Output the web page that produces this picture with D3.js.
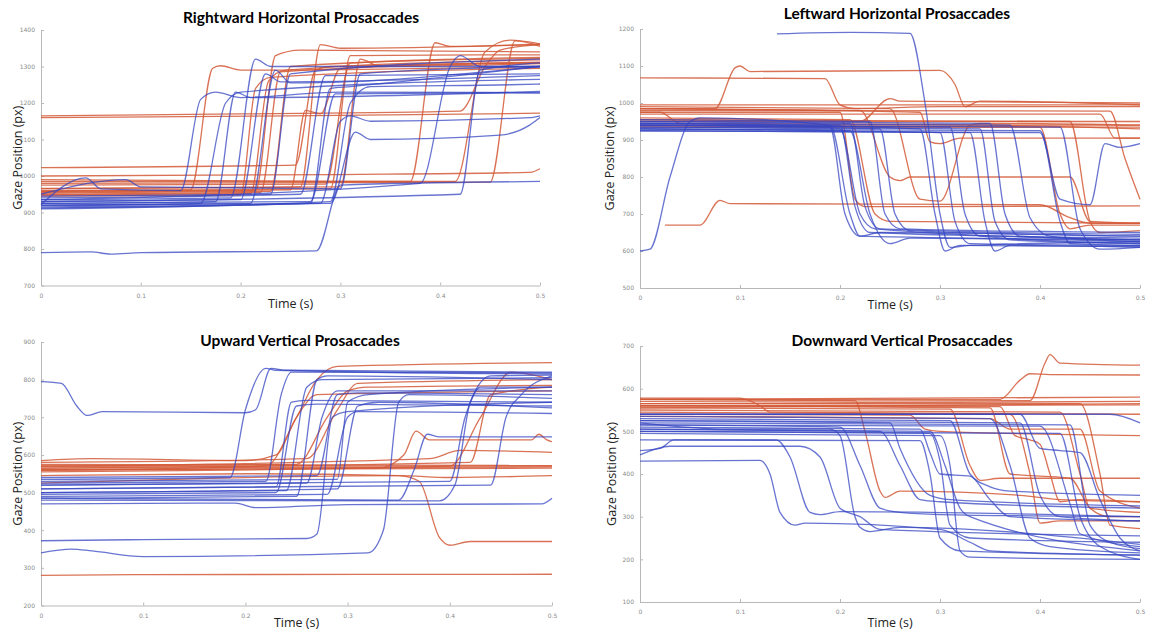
<!DOCTYPE html>
<html>
<head>
<meta charset="utf-8">
<script src="https://cdn.jsdelivr.net/npm/d3@7"></script>
<style>
  body { margin: 0; background: #fff; }
  .title { font-family: Lato, "Open Sans", sans-serif; font-weight: bold; font-size: 15.5px; fill: #000; }
  .alabel { font-family: "Open Sans", "Noto Sans", sans-serif; font-size: 12.5px; fill: #222; }
  .axis { color: #b8b8b8; }
  .axis .tick text { font-family: "DejaVu Sans", sans-serif; font-size: 6px; fill: #8a8a8a; }
</style>
</head>
<body>
<div id="container"></div>
<script>
// time ticks shared by all panels
const timeTicks = [0, 0.1, 0.2, 0.3, 0.4, 0.5];
const timeTickLabels = ["0", "0.1", "0.2", "0.3", "0.4", "0.5"];

// ---- Rightward horizontal: each trace is [time (s), gaze (px)] key points
const rightRed = [
  [[0,1165],[0.2,1170],[0.42,1178],[0.445,1300],[0.46,1345],[0.5,1360]],
  [[0,1160],[0.25,1165],[0.5,1172]],
  [[0,1023],[0.255,1030],[0.275,1290],[0.29,1300],[0.5,1310]],
  [[0,1000],[0.3,1004],[0.49,1010],[0.5,1020]],
  [[0,990],[0.3,985],[0.415,985],[0.445,1340],[0.47,1372],[0.5,1362]],
  [[0,960],[0.15,962],[0.172,1295],[0.18,1302],[0.2,1290],[0.5,1300]],
  [[0,955],[0.215,960],[0.235,1330],[0.26,1345],[0.5,1340]],
  [[0,965],[0.26,970],[0.28,1360],[0.3,1350],[0.5,1360]],
  [[0,950],[0.22,955],[0.24,1285],[0.5,1310]],
  [[0,958],[0.25,962],[0.265,1180],[0.28,1170],[0.3,1295],[0.5,1312]],
  [[0,975],[0.285,978],[0.31,1310],[0.5,1322]],
  [[0,966],[0.3,970],[0.32,1320],[0.34,1300],[0.5,1308]],
  [[0,985],[0.37,985],[0.395,1365],[0.41,1355],[0.5,1362]],
  [[0,980],[0.45,983],[0.475,1370],[0.5,1355]],
  [[0,945],[0.2,948],[0.215,1240],[0.23,1270],[0.5,1295]],
  [[0,958],[0.29,965],[0.31,1330],[0.5,1332]],
  [[0,953],[0.23,958],[0.25,1300],[0.5,1325]],
  [[0,948],[0.21,952],[0.228,1260],[0.245,1290],[0.5,1318]]
];
const rightBlue = [
  [[0,790],[0.05,792],[0.07,786],[0.1,790],[0.276,795],[0.3,975],[0.5,985]],
  [[0,922],[0.045,995],[0.06,965],[0.14,960],[0.16,1210],[0.175,1230],[0.2,1215],[0.3,1230],[0.5,1228]],
  [[0,935],[0.19,940],[0.215,1320],[0.23,1300],[0.5,1300]],
  [[0,925],[0.175,930],[0.195,1230],[0.21,1215],[0.5,1232]],
  [[0,915],[0.28,925],[0.3,1150],[0.31,1165],[0.33,1150],[0.49,1160],[0.5,1165]],
  [[0,920],[0.29,925],[0.315,1120],[0.33,1100],[0.46,1112],[0.49,1140],[0.5,1160]],
  [[0,935],[0.38,980],[0.41,1300],[0.42,1330],[0.44,1300],[0.5,1300]],
  [[0,930],[0.2,935],[0.225,1280],[0.24,1258],[0.5,1275]],
  [[0,920],[0.21,925],[0.235,1290],[0.25,1255],[0.5,1300]],
  [[0,945],[0.23,950],[0.25,1280],[0.5,1320]],
  [[0,912],[0.27,925],[0.29,1240],[0.31,1245],[0.5,1300]],
  [[0,925],[0.27,930],[0.295,1225],[0.5,1228]],
  [[0,930],[0.42,950],[0.44,1290],[0.5,1310]],
  [[0,940],[0.26,950],[0.285,1275],[0.5,1280]],
  [[0,950],[0.085,990],[0.1,970],[0.3,965],[0.32,1280],[0.5,1300]],
  [[0,910],[0.29,930],[0.31,1200],[0.33,1245],[0.47,1250],[0.5,1252]],
  [[0,918],[0.16,925],[0.185,1200],[0.2,1230],[0.5,1265]]
];

// ---- Leftward horizontal
const leftRed = [
  [[0,1068],[0.185,1066],[0.2,995],[0.215,985],[0.3,990],[0.5,990]],
  [[0,985],[0.075,985],[0.095,1095],[0.1,1100],[0.11,1085],[0.3,1088],[0.315,1050],[0.325,990],[0.34,1005],[0.5,995]],
  [[0.025,670],[0.06,670],[0.08,737],[0.09,728],[0.4,725],[0.43,690],[0.45,675],[0.5,675]],
  [[0,975],[0.2,975],[0.215,740],[0.225,720],[0.5,722]],
  [[0,990],[0.25,985],[0.28,740],[0.3,735],[0.33,940],[0.34,945],[0.5,940]],
  [[0,985],[0.22,980],[0.25,800],[0.26,790],[0.27,800],[0.43,800],[0.45,680],[0.5,675]],
  [[0,985],[0.28,975],[0.29,895],[0.3,890],[0.32,905],[0.5,905]],
  [[0,955],[0.22,950],[0.25,1012],[0.26,1005],[0.5,1000]],
  [[0,995],[0.5,995]],
  [[0,940],[0.5,940]],
  [[0,935],[0.5,935]],
  [[0,950],[0.5,950]],
  [[0,980],[0.47,978],[0.485,850],[0.5,740]],
  [[0,970],[0.46,970],[0.475,905],[0.5,905]],
  [[0,938],[0.4,935],[0.42,700],[0.43,660],[0.45,670],[0.5,670]],
  [[0,955],[0.43,950],[0.45,680],[0.46,650],[0.5,655]],
  [[0,960],[0.21,955],[0.235,700],[0.25,680],[0.5,675]],
  [[0,975],[0.02,975],[0.04,945],[0.3,942],[0.5,930]]
];
const leftBlue = [
  [[0.137,1187],[0.21,1191],[0.27,1188],[0.285,1000],[0.3,700],[0.31,610],[0.33,615],[0.5,625]],
  [[0,600],[0.01,605],[0.03,800],[0.05,950],[0.06,960],[0.19,940],[0.21,700],[0.22,640],[0.5,630]],
  [[0,925],[0.4,920],[0.42,740],[0.45,725],[0.465,890],[0.48,880],[0.5,890]],
  [[0,940],[0.19,935],[0.205,700],[0.22,640],[0.24,650],[0.5,640]],
  [[0,945],[0.2,940],[0.215,720],[0.23,650],[0.5,635]],
  [[0,935],[0.2,930],[0.22,700],[0.235,660],[0.5,630]],
  [[0,950],[0.21,945],[0.225,720],[0.24,660],[0.5,645]],
  [[0,930],[0.21,925],[0.23,700],[0.25,620],[0.27,635],[0.5,625]],
  [[0,945],[0.28,930],[0.295,700],[0.305,600],[0.32,615],[0.5,612]],
  [[0,930],[0.3,920],[0.315,680],[0.33,620],[0.5,615]],
  [[0,940],[0.31,935],[0.325,700],[0.34,640],[0.5,620]],
  [[0,925],[0.33,920],[0.345,680],[0.355,600],[0.37,615],[0.5,610]],
  [[0,935],[0.34,930],[0.355,680],[0.37,630],[0.5,620]],
  [[0,950],[0.35,945],[0.365,700],[0.38,640],[0.5,630]],
  [[0,945],[0.37,940],[0.39,690],[0.41,640],[0.5,625]],
  [[0,930],[0.4,925],[0.42,680],[0.43,620],[0.5,615]],
  [[0,940],[0.42,935],[0.44,660],[0.46,605],[0.5,610]],
  [[0,955],[0.23,950],[0.245,700],[0.26,660],[0.5,650]],
  [[0,940],[0.24,930],[0.255,700],[0.27,655],[0.5,640]]
];

// ---- Upward vertical
const upRed = [
  [[0,280],[0.1,282],[0.5,283]],
  [[0,565],[0.5,568]],
  [[0,560],[0.5,565]],
  [[0,570],[0.5,570]],
  [[0,575],[0.5,572]],
  [[0,545],[0.2,550],[0.35,545],[0.37,530],[0.39,380],[0.4,360],[0.42,370],[0.5,370]],
  [[0,525],[0.35,545],[0.4,540],[0.5,545]],
  [[0,560],[0.33,565],[0.355,600],[0.367,663],[0.38,640],[0.48,640],[0.487,655],[0.495,640],[0.5,635]],
  [[0,570],[0.38,590],[0.41,612],[0.5,607]],
  [[0,560],[0.22,570],[0.25,700],[0.27,800],[0.29,835],[0.5,845]],
  [[0,570],[0.25,575],[0.28,700],[0.3,770],[0.32,780],[0.5,785]],
  [[0,580],[0.26,590],[0.29,720],[0.31,790],[0.5,800]],
  [[0,555],[0.4,570],[0.43,700],[0.46,820],[0.5,800]],
  [[0,565],[0.42,580],[0.44,760],[0.5,780]],
  [[0,585],[0.05,590],[0.2,585],[0.23,600],[0.25,700],[0.27,760],[0.5,770]]
];
const upBlue = [
  [[0,795],[0.02,790],[0.035,730],[0.045,705],[0.06,715],[0.2,712],[0.21,720],[0.225,830],[0.24,825],[0.5,820]],
  [[0,372],[0.1,375],[0.26,378],[0.27,390],[0.285,700],[0.3,715],[0.5,740]],
  [[0,340],[0.03,350],[0.05,345],[0.1,330],[0.32,340],[0.335,400],[0.35,740],[0.36,760],[0.5,750]],
  [[0,485],[0.35,480],[0.365,560],[0.378,655],[0.39,648],[0.5,648]],
  [[0,480],[0.39,478],[0.405,520],[0.42,740],[0.44,810],[0.5,812]],
  [[0,470],[0.19,472],[0.21,460],[0.3,468],[0.49,470],[0.5,485]],
  [[0,535],[0.185,540],[0.2,720],[0.22,830],[0.23,825],[0.5,815]],
  [[0,525],[0.22,530],[0.235,760],[0.245,820],[0.5,818]],
  [[0,510],[0.23,515],[0.245,740],[0.26,745],[0.5,740]],
  [[0,495],[0.23,500],[0.25,730],[0.27,735],[0.5,730]],
  [[0,500],[0.24,505],[0.26,780],[0.275,800],[0.5,805]],
  [[0,485],[0.25,490],[0.27,800],[0.28,810],[0.5,800]],
  [[0,520],[0.26,525],[0.275,700],[0.29,770],[0.5,770]],
  [[0,540],[0.27,545],[0.29,760],[0.31,765],[0.5,760]],
  [[0,490],[0.28,495],[0.3,700],[0.31,715],[0.5,710]],
  [[0,500],[0.29,510],[0.31,730],[0.33,740],[0.5,725]],
  [[0,530],[0.29,535],[0.3,740],[0.32,760],[0.5,780]],
  [[0,520],[0.4,530],[0.415,700],[0.43,780],[0.5,780]],
  [[0,510],[0.44,520],[0.455,700],[0.47,760],[0.5,810]]
];

// ---- Downward vertical
const downRed = [
  [[0,575],[0.36,575],[0.38,620],[0.39,635],[0.41,633],[0.5,632]],
  [[0,570],[0.39,572],[0.405,660],[0.41,680],[0.42,660],[0.5,655]],
  [[0,565],[0.5,570]],
  [[0,575],[0.5,580]],
  [[0,560],[0.5,562]],
  [[0,555],[0.5,565]],
  [[0,578],[0.1,578],[0.12,560],[0.13,545],[0.5,540]],
  [[0,575],[0.215,572],[0.225,500],[0.24,360],[0.245,345],[0.26,360],[0.38,350],[0.42,340],[0.5,335]],
  [[0,540],[0.27,538],[0.285,505],[0.3,500],[0.5,490]],
  [[0,555],[0.31,552],[0.33,420],[0.34,385],[0.36,390],[0.5,390]],
  [[0,560],[0.36,558],[0.375,490],[0.39,480],[0.4,470],[0.41,400],[0.42,335],[0.44,340],[0.5,335]],
  [[0,545],[0.37,540],[0.39,400],[0.4,285],[0.42,290],[0.5,290]],
  [[0,550],[0.42,545],[0.44,400],[0.45,320],[0.5,310]],
  [[0,565],[0.44,565],[0.46,400],[0.47,280],[0.5,272]],
  [[0,560],[0.35,555],[0.37,400],[0.4,395],[0.43,390],[0.45,320],[0.47,300],[0.5,300]],
  [[0,535],[0.35,530],[0.37,505],[0.44,505],[0.46,360],[0.5,320]]
];
const downBlue = [
  [[0,430],[0.12,432],[0.13,400],[0.14,310],[0.155,280],[0.165,285],[0.3,270],[0.33,240],[0.35,220],[0.5,210]],
  [[0,455],[0.02,460],[0.034,480],[0.136,480],[0.15,440],[0.17,310],[0.18,305],[0.2,312],[0.5,300]],
  [[0,445],[0.03,465],[0.16,465],[0.18,440],[0.2,320],[0.22,300],[0.24,270],[0.5,255]],
  [[0,520],[0.09,505],[0.19,505],[0.2,490],[0.215,300],[0.22,275],[0.23,265],[0.26,275],[0.5,235]],
  [[0,515],[0.2,510],[0.22,420],[0.24,320],[0.26,310],[0.3,305],[0.5,300]],
  [[0,505],[0.24,500],[0.26,420],[0.28,340],[0.3,335],[0.5,320]],
  [[0,525],[0.25,520],[0.26,460],[0.29,350],[0.31,340],[0.5,325]],
  [[0,510],[0.28,505],[0.29,450],[0.3,400],[0.33,395],[0.35,340],[0.37,300],[0.5,290]],
  [[0,500],[0.29,495],[0.3,430],[0.31,280],[0.33,250],[0.5,240]],
  [[0,505],[0.29,500],[0.305,420],[0.32,320],[0.33,300],[0.5,220]],
  [[0,495],[0.3,490],[0.31,420],[0.32,220],[0.33,205],[0.5,200]],
  [[0,480],[0.28,478],[0.29,400],[0.3,250],[0.32,220],[0.5,210]],
  [[0,530],[0.31,525],[0.33,400],[0.35,370],[0.37,360],[0.5,350]],
  [[0,535],[0.35,530],[0.37,420],[0.39,250],[0.41,230],[0.5,215]],
  [[0,540],[0.38,540],[0.4,460],[0.42,455],[0.44,450],[0.46,340],[0.48,250],[0.5,220]],
  [[0,540],[0.47,540],[0.5,520]],
  [[0,525],[0.38,520],[0.4,350],[0.42,300],[0.5,290]],
  [[0,515],[0.4,512],[0.43,330],[0.44,260],[0.5,230]],
  [[0,500],[0.42,495],[0.44,300],[0.46,230],[0.5,200]],
  [[0,520],[0.43,515],[0.45,280],[0.47,240],[0.5,225]]
];

const W = 1150, H = 635;
const RED = "#d45a38", BLUE = "#3546c2";

const svg = d3.select("#container")
  .append("svg")
    .attr("width", W)
    .attr("height", H);

// panel boxes in page pixels
const panels = [
  {title: "Rightward Horizontal Prosaccades", red: rightRed, blue: rightBlue, yDomain: [700, 1400],
   left: 41, right: 540, top: 30, bottom: 285.5, titleX: 301, titleY: 23, ylabX: 18, xlabY: 308},
  {title: "Leftward Horizontal Prosaccades", red: leftRed, blue: leftBlue, yDomain: [500, 1200],
   left: 640, right: 1140, top: 29, bottom: 288, titleX: 897, titleY: 19, ylabX: 610, xlabY: 309},
  {title: "Upward Vertical Prosaccades", red: upRed, blue: upBlue, yDomain: [200, 900],
   left: 41, right: 552, top: 342, bottom: 605.5, titleX: 300, titleY: 346, ylabX: 18, xlabY: 627},
  {title: "Downward Vertical Prosaccades", red: downRed, blue: downBlue, yDomain: [100, 700],
   left: 640, right: 1140, top: 346, bottom: 602, titleX: 902, titleY: 346, ylabX: 612, xlabY: 627}
];

panels.forEach(p => {
  const x = d3.scaleLinear().domain([0, 0.5]).range([p.left, p.right]);
  const y = d3.scaleLinear().domain(p.yDomain).range([p.bottom, p.top]);
  const g = svg.append("g");

  // axes, ticks point inward like matlab
  g.append("g")
    .attr("class", "axis")
    .attr("transform", `translate(0,${p.bottom})`)
    .call(d3.axisBottom(x).tickValues(timeTicks)
      .tickFormat((d, i) => timeTickLabels[i]).tickSizeInner(-3).tickSizeOuter(0).tickPadding(8));
  g.append("g")
    .attr("class", "axis")
    .attr("transform", `translate(${p.left},0)`)
    .call(d3.axisLeft(y).tickValues(d3.range(p.yDomain[0], p.yDomain[1] + 1, 100))
      .tickFormat(d3.format("d")).tickSizeInner(-3).tickSizeOuter(0).tickPadding(6));

  const line = d3.line()
    .x(d => x(d[0]))
    .y(d => y(d[1]))
    .curve(d3.curveMonotoneX);

  g.selectAll(".red")
    .data(p.red)
    .enter().append("path")
      .attr("d", line)
      .attr("fill", "none")
      .attr("stroke", RED)
      .attr("stroke-opacity", 0.85)
      .attr("stroke-width", 1.3);

  g.selectAll(".blue")
    .data(p.blue)
    .enter().append("path")
      .attr("d", line)
      .attr("fill", "none")
      .attr("stroke", BLUE)
      .attr("stroke-opacity", 0.75)
      .attr("stroke-width", 1.3);

  g.append("text")
    .attr("class", "title")
    .attr("x", p.titleX)
    .attr("y", p.titleY)
    .attr("text-anchor", "middle")
    .text(p.title);

  g.append("text")
    .attr("class", "alabel")
    .attr("transform", `translate(${p.ylabX},${(p.top + p.bottom) / 2}) rotate(-90)`)
    .attr("text-anchor", "middle")
    .attr("dy", "0.35em")
    .text("Gaze Position (px)");

  g.append("text")
    .attr("class", "alabel")
    .attr("x", (p.left + p.right) / 2)
    .attr("y", p.xlabY)
    .attr("text-anchor", "middle")
    .text("Time (s)");
});
</script>
</body>
</html>
